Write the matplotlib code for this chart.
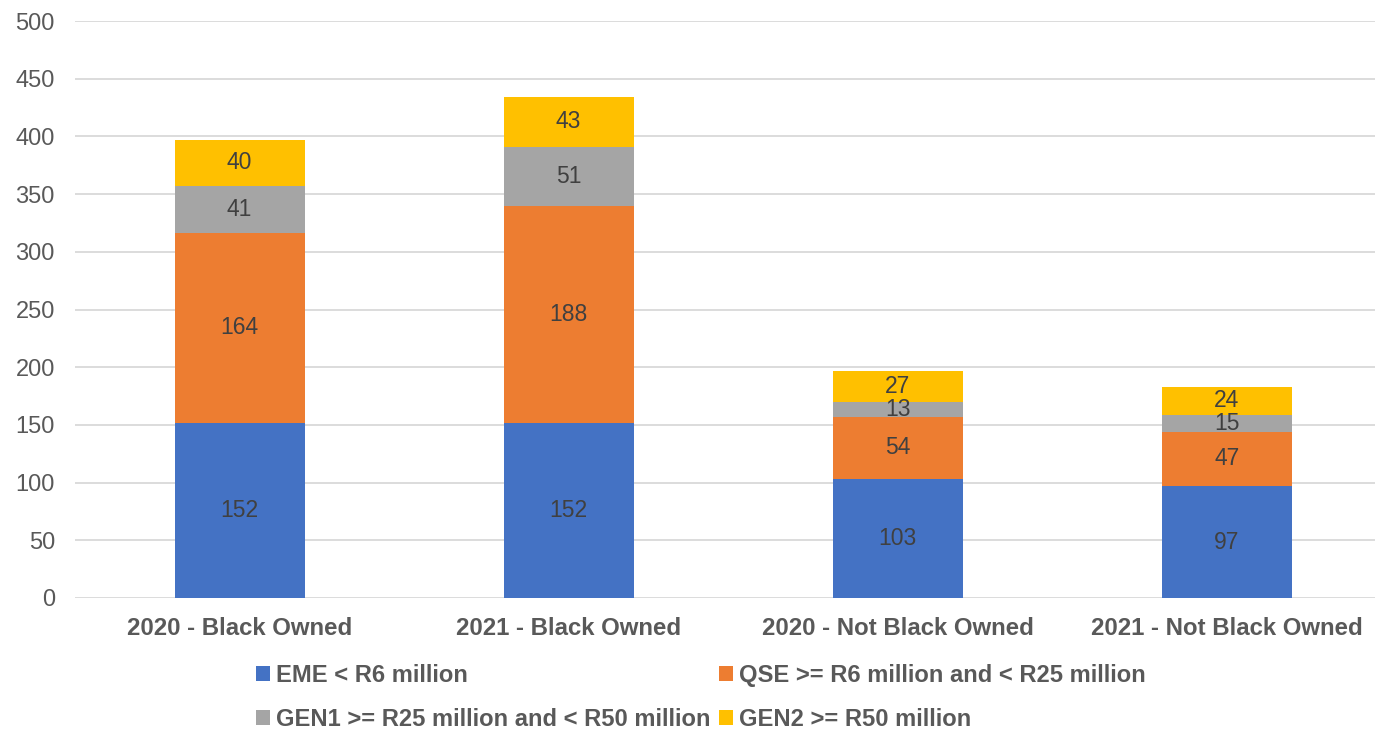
import matplotlib
matplotlib.use("Agg")
import matplotlib.pyplot as plt
from matplotlib.patches import Patch
import numpy as np

categories = ["2020 - Black Owned", "2021 - Black Owned", "2020 - Not Black Owned", "2021 - Not Black Owned"]
series_names = ["EME < R6 million", "QSE >= R6 million and < R25 million",
                "GEN1 >= R25 million and < R50 million", "GEN2 >= R50 million"]
eme = [152, 152, 103, 97]
qse = [164, 188, 54, 47]
gen1 = [41, 51, 13, 15]
gen2 = [40, 43, 27, 24]
colors = ["#4472C4", "#ED7D31", "#A5A5A5", "#FFC000"]
yticks = [0, 50, 100, 150, 200, 250, 300, 350, 400, 450, 500]

plt.rcParams['font.family'] = ['Liberation Sans', 'DejaVu Sans']

fig = plt.figure(figsize=(13.75, 7.29), dpi=100)
ax = fig.add_axes([75/1375, 1 - 598/729, 1 - 75/1375, (598 - 21)/729])

x = np.arange(len(categories))
bottom = np.zeros(len(categories))
for vals, c in zip([eme, qse, gen1, gen2], colors):
    vals = np.array(vals, dtype=float)
    ax.bar(x, vals, bottom=bottom, width=0.395, color=c, zorder=3)
    for xi, b, v in zip(x, bottom, vals):
        ax.text(xi, b + v / 2, f"{int(v)}", ha="center", va="center",
                fontsize=16.5, color="#404040", zorder=4)
    bottom += vals

ax.set_ylim(0, 500)
ax.set_xlim(-0.5, 3.45)
ax.set_yticks(yticks)
ax.yaxis.grid(True, color="#D9D9D9", linewidth=1.3, zorder=0)
ax.set_axisbelow(True)
for s in ax.spines.values():
    s.set_visible(False)
ax.tick_params(axis="y", length=0, labelsize=17, labelcolor="#595959", pad=14.5)
ax.tick_params(axis="x", length=0, pad=13.5)
ax.set_xticks(x)
ax.set_xticklabels(categories, fontsize=17.3, fontweight="bold", color="#595959")

handles = [Patch(facecolor=c, edgecolor="none") for c in colors]
order = [0, 2, 1, 3]
leg = fig.legend([handles[i] for i in order], [series_names[i] for i in order],
                 loc="center", ncol=2,
                 bbox_to_anchor=(701/1375, 1 - 697.5/729), frameon=False,
                 prop={"size": 17.1, "weight": "bold"},
                 handlelength=0.6, handleheight=0.6, handletextpad=0.25,
                 columnspacing=0.35, labelspacing=0.9, borderpad=0.2)
for t in leg.get_texts():
    t.set_color("#595959")

fig.savefig("out.png", dpi=100)
